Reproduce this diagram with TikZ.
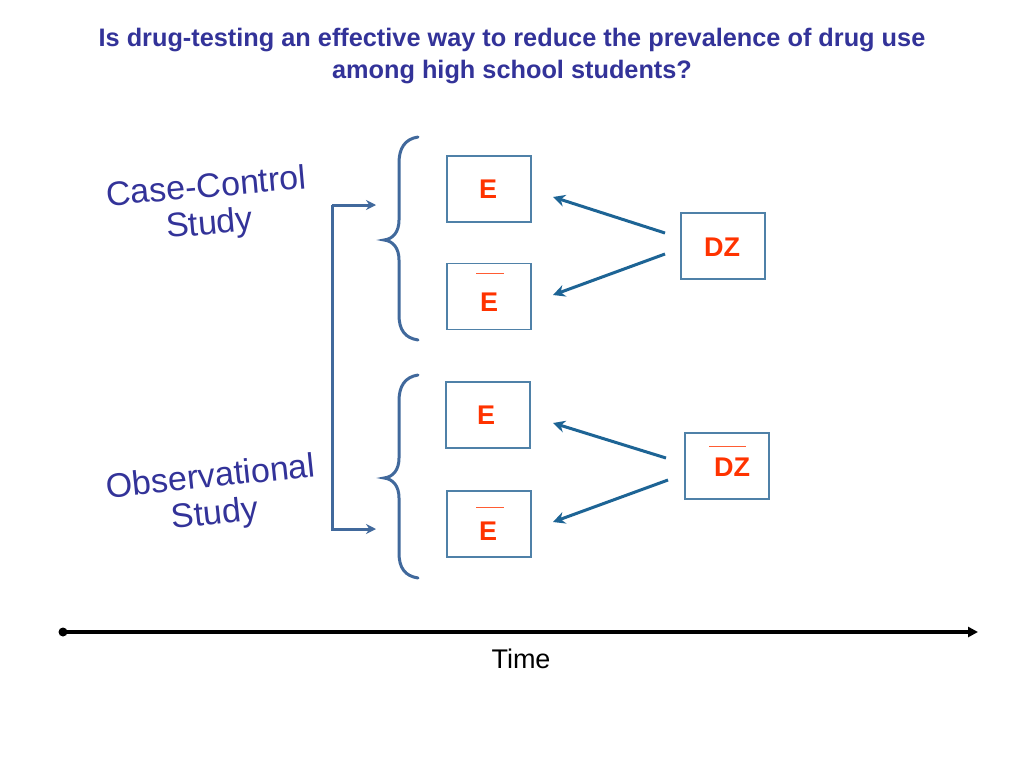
\documentclass[tikz,border=0pt]{standalone}
\usepackage{fontspec}
\setmainfont{Liberation Sans}
\usetikzlibrary{arrows.meta}
\definecolor{titleblue}{HTML}{333399}
\definecolor{boxblue}{HTML}{4F81A8}
\definecolor{arrblue}{HTML}{1D6495}
\definecolor{braceblue}{HTML}{41699C}
\definecolor{ered}{HTML}{FF3300}
\tikzset{
  ebox/.style={draw=boxblue, line width=1.3pt, minimum width=84pt, minimum height=66pt, inner sep=0pt},
  etext/.style={text=ered, font=\fontsize{27}{27}\selectfont\bfseries, inner sep=0pt},
  darr/.style={draw=arrblue, line width=3pt, -{Stealth[length=12pt,width=12pt]}},
  brc/.style={draw=braceblue, line width=3pt, line cap=round},
  barline/.style={draw=ered!80, line width=1pt},
  studytext/.style={text=titleblue, font=\fontsize{34}{37}\selectfont, align=center}
}
\begin{document}
\begin{tikzpicture}[x=1pt,y=-1pt]
\useasboundingbox (0,0) rectangle (1024,768);
\fill[white] (0,0) rectangle (1024,768);
% title
\node[text=titleblue, font=\fontsize{25.3}{32}\selectfont\bfseries, align=center] (title) at (512,56)
  {Is drug-testing an effective way to reduce the prevalence of drug use\\among high school students?};
% boxes
\node[ebox] (E1) at (489,189) {};
\node[ebox] (Eb1) at (489,296.5) {};
\node[ebox] (DZ1) at (723,246) {};
\node[ebox] (E2) at (488,415) {};
\node[ebox] (Eb2) at (489,524) {};
\node[ebox] (DZ2) at (727,466) {};
% box texts
\node[etext] (E1t) at (488,189) {E};
\node[etext] (Eb1t) at (489,302) {E};
\node[etext] (DZ1t) at (722,247) {DZ};
\node[etext] (E2t) at (486,415) {E};
\node[etext] (Eb2t) at (488,531) {E};
\node[etext] (DZ2t) at (732,467) {DZ};
% overbars
\draw[barline] ([xshift=-13pt,yshift=23pt]Eb1.center) -- ([xshift=15pt,yshift=23pt]Eb1.center);
\draw[barline] ([xshift=-13pt,yshift=17pt]Eb2.center) -- ([xshift=15pt,yshift=17pt]Eb2.center);
\draw[barline] ([xshift=-18pt,yshift=20pt]DZ2.center) -- ([xshift=19pt,yshift=20pt]DZ2.center);
% arrows
\coordinate (a1) at (665,233); \coordinate (b1) at (553,197);
\coordinate (a2) at (665,254); \coordinate (b2) at (553,295);
\coordinate (a3) at (666,458); \coordinate (b3) at (553,423);
\coordinate (a4) at (668,480); \coordinate (b4) at (553,522);
\draw[darr] (a1) -- (b1);
\draw[darr] (a2) -- (b2);
\draw[darr] (a3) -- (b3);
\draw[darr] (a4) -- (b4);
% braces
\draw[brc] (418,137) .. controls (405,139) and (399,148) .. (399,163)
  -- (399,220) .. controls (399,232) and (393,239) .. (384,240)
  .. controls (393,241) and (399,248) .. (399,260)
  -- (399,315) .. controls (399,330) and (405,338) .. (418,340);
\draw[brc] (418,375) .. controls (405,377) and (399,386) .. (399,401)
  -- (399,458) .. controls (399,470) and (393,477) .. (384,478)
  .. controls (393,479) and (399,486) .. (399,498)
  -- (399,553) .. controls (399,568) and (405,576) .. (418,578);
% bracket connector
\coordinate (c1) at (332,205); \coordinate (c2) at (332,529);
\coordinate (t1) at (376,205); \coordinate (t2) at (376,529);
\draw[braceblue, line width=3pt, -{Stealth[length=10pt,width=10pt]}] (c1) -- (c2) -- (t2);
\draw[braceblue, line width=3pt, -{Stealth[length=10pt,width=10pt]}] (c1) -- (t1);
% study labels
\node[studytext, rotate=5] (cc) at (208,207) {Case-Control\\Study};
\node[studytext, rotate=6] (obs) at (213,497) {Observational\\Study};
% timeline
\coordinate (ts) at (63,632); \coordinate (te) at (978,632);
\fill[black] (ts) circle (4.5pt);
\draw[black, line width=3.2pt, -{Triangle[length=10pt,width=10pt]}] (ts) -- (te);
\node[font=\fontsize{27}{27}\selectfont] (time) at (521,659) {Time};
\end{tikzpicture}
\end{document}
